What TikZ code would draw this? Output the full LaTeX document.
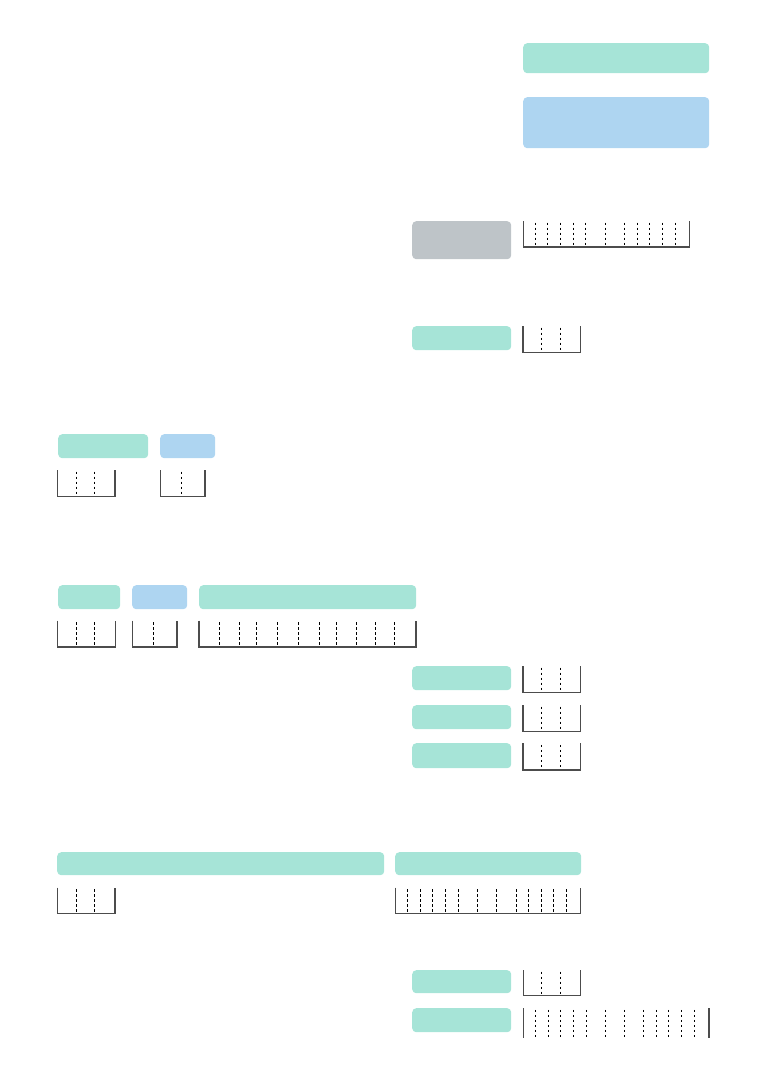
\documentclass[tikz,border=0pt]{standalone}
\definecolor{mint}{RGB}{166,228,215}
\definecolor{sky}{RGB}{174,213,241}
\definecolor{slate}{RGB}{190,196,200}
\tikzset{
  fld/.style={rounded corners=4pt, draw=none, inner sep=0pt, anchor=north west},
  gfld/.style={fld, fill=mint},
  bfld/.style={fld, fill=sky},
  sfld/.style={fld, fill=slate},
  frame/.style={draw=black!70, line width=1.1pt},
  tick/.style={draw=black, line width=0.9pt, dash pattern=on 2.5pt off 2.5pt},
}
\newcommand\mkbox[6]{% name, style, x1, y1, x2, y2
  \node[#2, minimum width={#5-#3}, minimum height={#6-#4}] (#1) at (#3,#4) {};}
\newcommand\bitfield[5]{% x1, x2, top, bottom, dash positions
  \draw[frame] (#1,#3) -- (#1,#4) -- (#2,#4) -- (#2,#3);
  \foreach \d in {#5} \draw[tick] (\d,#3+1.5) -- (\d,#4-1.5);}
\newcommand\bitfieldopen[5]{% no bottom line
  \draw[frame] (#1,#3) -- (#1,#4);
  \draw[frame] (#2,#3) -- (#2,#4);
  \foreach \d in {#5} \draw[tick] (\d,#3+1.5) -- (\d,#4-1.5);}
\begin{document}
\begin{tikzpicture}[x=1pt,y=-1pt]
\useasboundingbox (0,0) rectangle (761,1076);
% boxes
\mkbox{a}{gfld}{523}{43}{709}{73}
\mkbox{b}{bfld}{523}{97}{709}{148}
\mkbox{c}{sfld}{412}{221}{511}{259}
\mkbox{d}{gfld}{412}{326}{511}{350}
\mkbox{e}{gfld}{58}{434}{148}{458}
\mkbox{f}{bfld}{160}{434}{215}{458}
\mkbox{g}{gfld}{58}{585}{120}{609}
\mkbox{h}{bfld}{132}{585}{187}{609}
\mkbox{i}{gfld}{199}{585}{416}{609}
\mkbox{j1}{gfld}{412}{666}{511}{690}
\mkbox{j2}{gfld}{412}{705}{511}{729}
\mkbox{j3}{gfld}{412}{743}{511}{768}
\mkbox{k}{gfld}{57}{852}{384}{875}
\mkbox{l}{gfld}{395}{852}{581}{875}
\mkbox{m}{gfld}{412}{970}{511}{993}
\mkbox{n}{gfld}{412}{1008}{511}{1032}
% bit fields
\bitfield{523.3}{689.3}{221}{247}{535.3,547.7,560.3,573,585.7,605,624.3,637,649.7,662.3,675}
\bitfield{523}{580.3}{326}{352.7}{541.7,560}
\bitfield{57.7}{115}{470}{496.3}{76,94.7}
\bitfield{160.3}{205}{470}{496.3}{181.7}
\bitfield{57.7}{115.3}{620.7}{647}{76,94.7}
\bitfield{132.3}{177}{620.7}{647}{153.7}
\bitfield{199}{416}{620.7}{647}{219.3,239.3,256,277.3,298,319.3,336,356,375.3,394.7}
\bitfield{523}{580.3}{666}{692.7}{541.7,560}
\bitfield{523}{580.3}{705}{731.3}{541.7,560}
\bitfield{523}{580.3}{743.3}{770}{541.7,560}
\bitfield{57.7}{115}{887.7}{913.7}{76,94.7}
\bitfield{395.3}{580.7}{887.7}{913.7}{407.7,420.3,432.7,445.7,458.3,477.3,496.7,516,528.7,541.3,553.7,566.3}
\bitfield{523.3}{580.3}{970}{995.7}{541.7,560}
\bitfieldopen{523.3}{709}{1008.3}{1038.3}{535.7,548.3,560.7,573.3,586,605.3,624.7,643.7,656,668.7,681.7,694.3}
\end{tikzpicture}
\end{document}
